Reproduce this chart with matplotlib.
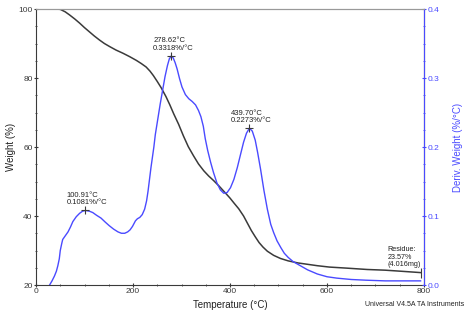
import matplotlib
matplotlib.use('Agg')
import matplotlib.pyplot as plt
from matplotlib.ticker import MultipleLocator

# weight curve (temperature in C, weight in %)
t_wt = [29, 40, 50, 60, 69, 80, 90, 100, 110, 120, 131, 141, 152, 165, 179, 193, 207,
        217, 227, 235, 242, 250, 258, 268, 276, 284, 294, 304, 314, 325, 335, 346, 356,
        366, 378, 391, 400, 408, 418, 428, 436, 444, 452, 460, 468, 477, 490, 504, 520,
        540, 560, 580, 605, 640, 683, 720, 752, 793]
wt = [100, 100, 99.9, 99.2, 98.3, 97.1, 95.9, 94.6, 93.4, 92.2, 91.0, 90.0, 89.1, 88.1,
      87.2, 86.2, 85.1, 84.2, 83.2, 82.0, 80.7, 79.0, 77.2, 74.6, 72.2, 69.6, 66.6, 63.2,
      60.1, 57.4, 55.1, 53.1, 51.6, 50.3, 48.6, 46.6, 45.2, 43.8, 42.1, 40.0, 37.9, 35.8,
      34.0, 32.3, 31.0, 29.8, 28.6, 27.7, 27.0, 26.4, 26.0, 25.6, 25.2, 24.9, 24.5, 24.3,
      24.0, 23.6]

# derivative curve (temperature in C, deriv weight in %/C)
t_dw = [28, 33, 38, 42, 45, 48, 50, 53, 55, 60, 66, 71, 76, 83, 90, 96, 102, 110, 117,
        125, 134, 143, 151, 160, 169, 176, 183, 189, 194, 199, 205, 209, 214, 219, 224,
        228, 231, 234, 237, 240, 243, 246, 251, 256, 261, 266, 271, 275, 279, 283, 287,
        291, 296, 301, 308, 315, 322, 329, 335, 340, 345, 349, 354, 360, 366, 373, 380,
        387, 394, 401, 408, 415, 422, 428, 434, 440, 446, 452, 457, 463, 470, 477, 484,
        490, 497, 505, 512, 520, 530, 540, 550, 560, 580, 600, 620, 650, 680, 720, 760,
        793]
dw = [0.000, 0.006, 0.013, 0.020, 0.028, 0.038, 0.050, 0.060, 0.066, 0.071, 0.077,
      0.084, 0.092, 0.099, 0.104, 0.107, 0.108, 0.107, 0.105, 0.101, 0.097, 0.091,
      0.086, 0.081, 0.077, 0.075, 0.075, 0.077, 0.080, 0.085, 0.093, 0.096, 0.098,
      0.102, 0.110, 0.122, 0.136, 0.153, 0.170, 0.185, 0.200, 0.218, 0.240, 0.262,
      0.282, 0.302, 0.318, 0.328, 0.332, 0.329, 0.322, 0.313, 0.299, 0.287, 0.276,
      0.270, 0.266, 0.261, 0.253, 0.244, 0.230, 0.212, 0.195, 0.178, 0.163, 0.148,
      0.138, 0.133, 0.134, 0.141, 0.153, 0.170, 0.190, 0.207, 0.220, 0.2273, 0.223,
      0.210, 0.192, 0.168, 0.137, 0.110, 0.088, 0.076, 0.064, 0.054, 0.046, 0.040,
      0.034, 0.030, 0.026, 0.022, 0.016, 0.012, 0.010, 0.008, 0.007, 0.006, 0.006,
      0.006]

peaks_t = [100.91, 278.62, 439.70]
peaks_d = [0.1081, 0.3318, 0.2273]
residue_t = 793
residue_w = 23.57

gray = '#3a3a3a'
blue = '#4a4aff'

plt.rcParams['font.family'] = 'Liberation Sans'
fig = plt.figure(figsize=(4.69, 3.23), dpi=100)
ax = fig.add_axes([0.0768, 0.1176, 0.8272, 0.8545])
ax2 = ax.twinx()

ax.plot(t_wt, wt, color=gray, linewidth=1.1, solid_joinstyle='round')
ax2.plot(t_dw, dw, color=blue, linewidth=1.0, solid_joinstyle='round')

ax.set_xlim(0, 800)
ax.set_ylim(20, 100)
ax2.set_ylim(0, 0.4)

ax.xaxis.set_major_locator(MultipleLocator(200))
ax.xaxis.set_minor_locator(MultipleLocator(50))
ax.yaxis.set_major_locator(MultipleLocator(20))
ax.yaxis.set_minor_locator(MultipleLocator(5))
ax2.yaxis.set_major_locator(MultipleLocator(0.1))
ax2.yaxis.set_minor_locator(MultipleLocator(0.025))

ax.tick_params(axis='both', which='major', labelsize=6, length=3, direction='inout',
               colors=gray, pad=1)
ax.tick_params(axis='both', which='minor', length=2, direction='inout', colors=gray)
ax2.tick_params(axis='y', which='major', labelsize=6, length=3, direction='inout',
                colors=blue, pad=1)
ax2.tick_params(axis='y', which='minor', length=2, direction='inout', colors=blue)

ax.spines['top'].set_color('#999999')
ax.spines['left'].set_color(gray)
ax.spines['bottom'].set_color(gray)
ax2.spines['right'].set_color(blue)
ax2.spines['top'].set_color('#999999')
ax2.spines['left'].set_visible(False)
ax2.spines['bottom'].set_visible(False)
for s in ['top', 'left', 'bottom']:
    ax.spines[s].set_linewidth(0.8)
ax2.spines['right'].set_linewidth(0.8)

ax.set_xlabel('Temperature (\u00b0C)', fontsize=7, color='#222222', labelpad=3)
ax.set_ylabel('Weight (%)', fontsize=7, color='#222222', labelpad=2)
ax2.set_ylabel('Deriv. Weight (%/\u00b0C)', fontsize=7, color=blue, labelpad=10)

# peak annotations
for pt, pd_ in zip(peaks_t, peaks_d):
    ax2.plot(pt, pd_, marker='+', color=gray, markersize=6, markeredgewidth=0.8)
    ax2.annotate('%.2f\u00b0C\n%.4f%%/\u00b0C' % (pt, pd_), (pt, pd_), xytext=(-13, 3),
                 textcoords='offset points', fontsize=5.5, color='#222222',
                 ha='left', va='bottom', linespacing=1.1)

ax.plot(residue_t, 23.6, marker='|', color=gray, markersize=7, markeredgewidth=0.8)
ax.annotate('Residue:\n%.2f%%\n(4.016mg)' % residue_w, (residue_t, 23.6), xytext=(-24, 3),
            textcoords='offset points', fontsize=5.2, color='#222222',
            ha='left', va='bottom', linespacing=1.1)

fig.text(0.99, 0.056, 'Universal V4.5A TA Instruments', fontsize=5, color='#222222',
         ha='right', va='center')

fig.savefig('out.png', dpi=100)
